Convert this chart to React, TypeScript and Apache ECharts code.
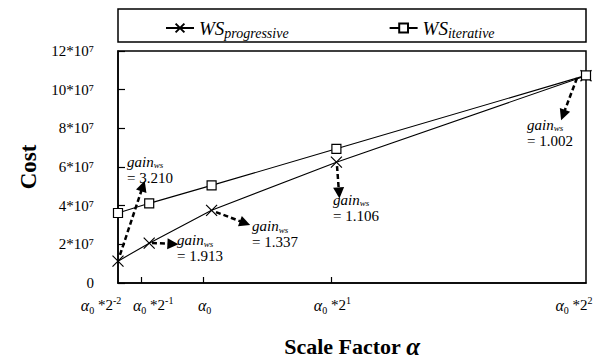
import React, { useEffect, useRef } from "react";
import * as echarts from "echarts";

// ---- data ----
const xValues = [0.25, 0.5, 1, 2, 4];
const xExponents = ["-2", "-1", "", "1", "2"];
const progressive = [1.13e7, 2.06e7, 3.76e7, 6.25e7, 10.72e7];
const iterative = [3.62e7, 4.12e7, 5.05e7, 6.94e7, 10.74e7];
const gains = ["3.210", "1.913", "1.337", "1.106", "1.002"];
const xTickMarks = [0.434, 0.931, 1.957];
const yMax = 12e7;
const yStep = 2e7;

// annotation arrows (data coords) and label anchors
const arrowFrom = [
  [0.266, 1.45e7],
  [0.522, 2.07e7],
  [1.035, 3.67e7],
  [2.005, 6.05e7],
  [3.928, 10.6e7],
];
const arrowTo = [
  [0.45, 5.02e7],
  [0.69, 2.02e7],
  [1.268, 3.1e7],
  [2.021, 4.66e7],
  [3.816, 8.69e7],
];
const labelAt = [
  [0.322, 5.85e7],
  [0.723, 1.81e7],
  [1.324, 2.53e7],
  [1.973, 3.88e7],
  [3.527, 7.76e7],
];
// horizontal label shift in px (layout only)
const labelShift = [-17, 4, -7, -4, -12];

const FONT = "'Liberation Serif', 'Times New Roman', serif";

export default function App() {
  const ref = useRef<HTMLDivElement>(null);
  useEffect(() => {
    if (!ref.current) return;
    const chart = echarts.init(ref.current, undefined, { renderer: "svg" });
    const crossPath = "path://M0,0L10,10M10,0L0,10";
    const tok = (o: any) => ({ fontFamily: FONT, color: "#000", ...o });

    const xLabelFormatter = (v: number) => {
      let i = -1;
      xValues.forEach((x, k) => {
        if (Math.abs(x - v) < 1e-6) i = k;
      });
      if (i < 0) return "";
      const e = xExponents[i];
      let s = "{a|α}{z|0}";
      if (e) s += `{m| *2}{p|${e}}`;
      const sh = labelShift[i];
      if (sh < 0) s += `{sp${-sh * 2}| }`;
      else if (sh > 0) s = `{sp${sh * 2}| }` + s;
      return s;
    };
    const xLabelRich = {
      a: tok({ fontStyle: "italic", fontSize: 16, lineHeight: 20, verticalAlign: "middle" }),
      z: tok({ fontSize: 10, lineHeight: 20, verticalAlign: "bottom", padding: [6, 0, 0, 0] }),
      m: tok({ fontSize: 15, lineHeight: 20, verticalAlign: "middle" }),
      p: tok({ fontSize: 10, lineHeight: 12, verticalAlign: "top" }),
      sp34: { width: 34 },
      sp8: { width: 8 },
      sp14: { width: 14 },
      sp24: { width: 24 },
    };
    const baseX = {
      type: "value",
      min: xValues[0],
      max: xValues[xValues.length - 1],
      position: "bottom",
      offset: 0,
      splitLine: { show: false },
    };

    const option: any = {
      animation: false,
      textStyle: { fontFamily: FONT, color: "#000" },
      graphic: [
        {
          type: "rect",
          shape: { x: 118, y: 9, width: 468, height: 33 },
          style: { fill: "none", stroke: "#000", lineWidth: 1.5 },
          silent: true,
        },
      ],
      legend: {
        left: 160,
        top: 13,
        itemWidth: 28,
        itemHeight: 11,
        itemGap: 100,
        data: ["WS_progressive", "WS_iterative"],
        formatter: (name: string) => {
          const sub = name.split("_")[1];
          return `{ws|WS}{sub|${sub}}`;
        },
        textStyle: {
          fontFamily: FONT,
          color: "#000",
          rich: {
            ws: tok({ fontStyle: "italic", fontSize: 19, lineHeight: 24, verticalAlign: "middle" }),
            sub: tok({ fontStyle: "italic", fontSize: 14, lineHeight: 24, verticalAlign: "bottom", padding: [8, 0, 0, 0] }),
          },
        },
      },
      grid: {
        left: 118,
        right: 24,
        top: 51,
        bottom: 78,
        show: true,
        borderColor: "#000",
        borderWidth: 1.5,
        containLabel: false,
        outerBoundsMode: "none",
      },
      xAxis: [
        {
          ...baseX,
          name: "{t|Scale Factor }{a|α}",
          nameLocation: "middle",
          nameGap: 50,
          nameTextStyle: {
            fontFamily: FONT,
            rich: {
              t: tok({ fontWeight: "bold", fontSize: 22, lineHeight: 26 }),
              a: tok({ fontWeight: "bold", fontStyle: "italic", fontSize: 25, lineHeight: 26 }),
            },
          },
          axisLine: { lineStyle: { color: "#000", width: 1.5 } },
          axisTick: {
            inside: true,
            length: 6,
            customValues: xTickMarks,
            lineStyle: { color: "#000", width: 1.2 },
          },
          axisLabel: {
            customValues: xValues.slice(1),
            interval: 0,
            margin: 12,
            hideOverlap: false,
            fontFamily: FONT,
            color: "#000",
            formatter: xLabelFormatter,
            rich: xLabelRich,
          },
        },
        {
          ...baseX,
          axisLine: { show: false },
          axisTick: { show: false },
          axisLabel: {
            customValues: xValues.slice(0, 1),
            interval: 0,
            margin: 12,
            hideOverlap: false,
            showMinLabel: true,
            fontFamily: FONT,
            color: "#000",
            formatter: xLabelFormatter,
            rich: xLabelRich,
          },
        },
      ],
      yAxis: {
        type: "value",
        min: 0,
        max: yMax,
        interval: yStep,
        name: "Cost",
        nameLocation: "middle",
        nameGap: 72,
        nameTextStyle: { fontFamily: FONT, fontWeight: "bold", fontSize: 23, color: "#000" },
        splitLine: { show: false },
        axisLine: { show: true, lineStyle: { color: "#000", width: 1.5 } },
        axisTick: { inside: true, length: 7, lineStyle: { color: "#000", width: 1.2 } },
        axisLabel: {
          margin: 24,
          fontFamily: FONT,
          fontSize: 15,
          color: "#000",
          formatter: (v: number) => (v === 0 ? "0" : `${v / 1e7}*10\u2077`),
        },
      },
      series: [
        {
          name: "WS_progressive",
          type: "line",
          data: xValues.map((x, i) => [x, progressive[i]]),
          symbol: crossPath,
          symbolSize: 11,
          showAllSymbol: true,
          lineStyle: { color: "#000", width: 1.1 },
          itemStyle: { color: "#000", borderColor: "#000", borderWidth: 1.2 },
          z: 3,
          markLine: {
            silent: true,
            symbol: ["none", "triangle"],
            symbolSize: 11,
            label: { show: false },
            lineStyle: { color: "#000", type: [5, 3], width: 2.5 },
            emphasis: { disabled: true },
            data: arrowFrom.map((f, i) => [{ coord: f }, { coord: arrowTo[i] }]),
          },
          markPoint: {
            silent: true,
            symbol: "circle",
            symbolSize: 0,
            data: labelAt.map((c, i) => ({
              coord: c,
              label: {
                show: true,
                position: "right",
                distance: 0,
                align: "left",
                fontFamily: FONT,
                color: "#000",
                formatter: `{g|gain}{w|ws}\n{e|= ${gains[i]}}`,
                rich: {
                  g: tok({ fontStyle: "italic", fontSize: 15, lineHeight: 16, verticalAlign: "middle" }),
                  w: tok({ fontStyle: "italic", fontSize: 9, lineHeight: 16, verticalAlign: "bottom" }),
                  e: tok({ fontSize: 15, lineHeight: 16 }),
                },
              },
            })),
          },
        },
        {
          name: "WS_iterative",
          type: "line",
          data: xValues.map((x, i) => [x, iterative[i]]),
          symbol: "rect",
          symbolSize: 9,
          showAllSymbol: true,
          lineStyle: { color: "#000", width: 1.1 },
          itemStyle: { color: "#fff", borderColor: "#000", borderWidth: 1.2 },
          z: 3,
        },
      ],
    };
    chart.setOption(option);
    return () => chart.dispose();
  }, []);
  return (
    <div
      ref={ref}
      style={{ position: "fixed", left: 0, top: 0, width: 610, height: 361, background: "#fff" }}
    />
  );
}
